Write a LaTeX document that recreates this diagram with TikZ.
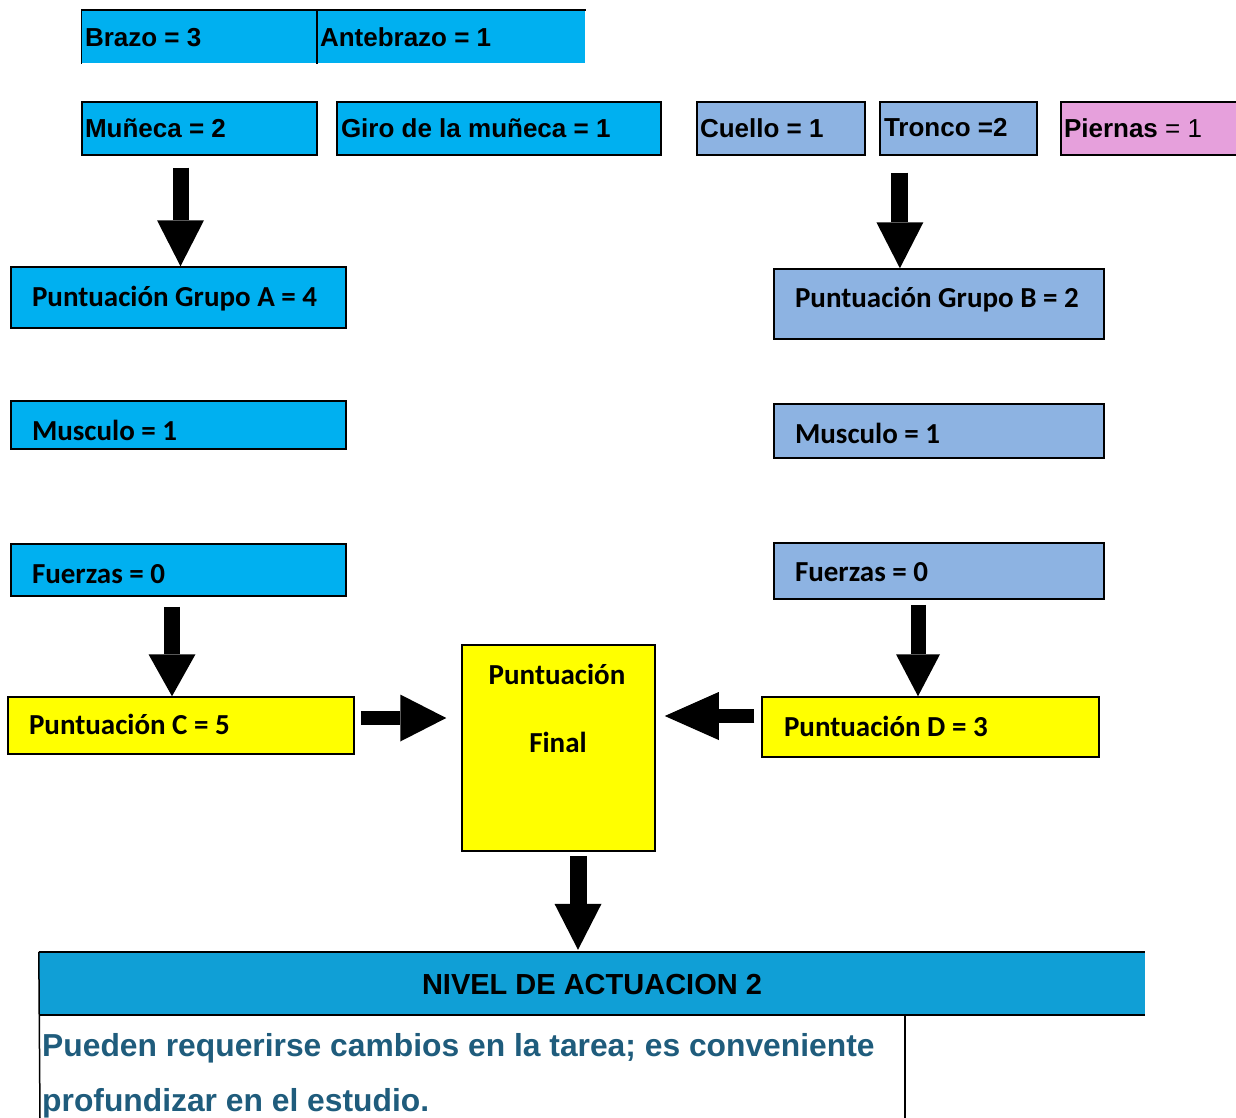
\documentclass[tikz,border=0pt]{standalone}
\usepackage{fontspec}
\setmainfont{Liberation Sans}
\newfontfamily\calib{Carlito}
\usetikzlibrary{arrows.meta,calc}
\definecolor{cyanbox}{HTML}{00B0F0}
\definecolor{bluebox}{HTML}{8DB3E2}
\definecolor{pinkbox}{HTML}{E6A0DC}
\definecolor{yelbox}{HTML}{FFFF00}
\definecolor{nivelblue}{HTML}{109FD6}
\definecolor{tealtext}{HTML}{1F5C7C}
\newcommand{\lbx}[2]{\makebox[#1][l]{#2}}
\begin{document}
\begin{tikzpicture}[x=1pt,y=-1pt,
  abox/.style={draw=black, line width=1.5pt, inner ysep=0pt, inner xsep=3pt,
    font=\fontsize{26}{30}\selectfont\bfseries, text height=22pt, text depth=3.5pt},
  cbox/.style={draw=black, line width=1.5pt, inner ysep=0pt, inner xsep=21pt,
    font=\calib\fontsize{29}{34}\selectfont\bfseries, text height=22pt, text depth=4pt},
  ctext/.style={inner sep=0pt, font=\calib\fontsize{29}{34}\selectfont\bfseries},
  barrow/.style={line width=16pt, -{Triangle[length=46pt,width=47pt,line width=0pt]}},
  edge/.style={line width=1.5pt, draw=black},
  desc/.style={anchor=base west, inner sep=0pt, text=tealtext, font=\fontsize{31.8}{36}\selectfont\bfseries},
]
\useasboundingbox (0,0) rectangle (1236,1118);

% top rows
\node[abox, draw=none, fill=cyanbox, minimum width=234pt, minimum height=52pt] (brazo) at (199,37) {\lbx{228pt}{Brazo = 3}};
\node[abox, draw=none, fill=cyanbox, minimum width=269pt, minimum height=52pt, inner xsep=4pt] (antebrazo) at (450.5,37) {\lbx{261pt}{Antebrazo = 1}};
\draw[edge] (brazo.north west) -- (antebrazo.north east);
\draw[edge] (brazo.north west) -- (brazo.south west);
\draw[edge] (brazo.north east) -- (brazo.south east);

\node[abox, fill=cyanbox, minimum width=235pt, minimum height=53pt] (muneca) at (199.5,128.5) {\lbx{229pt}{Muñeca = 2}};
\node[abox, fill=cyanbox, minimum width=324pt, minimum height=53pt, inner xsep=4pt] (giro) at (499,128.5) {\lbx{316pt}{Giro de la muñeca = 1}};
\node[abox, fill=bluebox, minimum width=168pt, minimum height=53pt] (cuello) at (781,128.5) {\lbx{162pt}{Cuello = 1}};
\node[abox, fill=bluebox, minimum width=157pt, minimum height=53pt, inner xsep=4pt] (tronco) at (958.5,128.5) {\lbx{149pt}{\raisebox{1pt}{Tronco =2}}};
\node[abox, fill=pinkbox, minimum width=176pt, minimum height=53pt] (piernas) at (1149,128.5) {\lbx{170pt}{Piernas {\mdseries = 1}}};

% group A column
\node[cbox, fill=cyanbox, minimum width=335pt, minimum height=61pt] (grupoA) at (178.5,297.5) {\lbx{293pt}{Puntuación Grupo A = 4}};
\node[cbox, fill=cyanbox, minimum width=335pt, minimum height=48pt] (musculoA) at (178.5,425) {\lbx{293pt}{\raisebox{-6pt}{Musculo = 1}}};
\node[cbox, fill=cyanbox, minimum width=335pt, minimum height=52pt] (fuerzasA) at (178.5,570) {\lbx{293pt}{\raisebox{-4pt}{Fuerzas = 0}}};
\node[cbox, fill=yelbox, minimum width=346pt, minimum height=57pt] (C) at (181,725.5) {\lbx{304pt}{Puntuación C = 5}};

% group B column
\node[cbox, fill=bluebox, minimum width=330pt, minimum height=70pt] (grupoB) at (939,304) {\lbx{288pt}{\raisebox{6pt}{Puntuación Grupo B = 2}}};
\node[cbox, fill=bluebox, minimum width=330pt, minimum height=54pt] (musculoB) at (939,431) {\lbx{288pt}{\raisebox{-3pt}{Musculo = 1}}};
\node[cbox, fill=bluebox, minimum width=330pt, minimum height=56pt] (fuerzasB) at (939,571) {\lbx{288pt}{\raisebox{-1pt}{Fuerzas = 0}}};
\node[cbox, fill=yelbox, minimum width=337pt, minimum height=60pt, inner xsep=22pt] (D) at (930.5,727) {\lbx{293pt}{Puntuación D = 3}};

% final
\node[draw=black, line width=1.5pt, fill=yelbox, minimum width=193pt, minimum height=206pt, inner sep=0pt] (final) at (558.5,748) {};
\node[ctext, anchor=base] (finalA) at (557,684) {Puntuación};
\node[ctext, anchor=base] (finalB) at (558,752) {Final};

% nivel
\node[fill=nivelblue, minimum width=1106pt, minimum height=63pt, inner sep=0pt,
  font=\fontsize{29}{34}\selectfont\bfseries, text height=22pt, text depth=0pt] (nivel) at (592,983.5) {NIVEL DE ACTUACION 2};
\coordinate (bl) at (40,1118);
\coordinate (vl) at (905,1118);
\draw[edge] (nivel.north west) -- (nivel.north east);
\draw[edge] (nivel.south west) -- (nivel.south east);
\draw[edge] (nivel.north west) -- (bl);
\draw[edge] (vl |- nivel.south) -- (vl);
\node[desc] (desc1) at (42,1056) {Pueden requerirse cambios en la tarea; es conveniente};
\node[desc] (desc2) at (42,1111) {profundizar en el estudio.};

% arrows
\coordinate (a1s) at ($(muneca.south -| grupoA.north)+(2,12)$);
\coordinate (a1t) at ($(grupoA.north)+(2,0)$);
\draw[barrow] (a1s) -- (a1t);

\coordinate (a2t) at ($(grupoB.north west)!0.382!(grupoB.north east)$);
\coordinate (a2s) at ($(a2t |- tronco.south)+(0,17)$);
\draw[barrow, line width=17pt] (a2s) -- (a2t);

\coordinate (a3t) at ($(C.north)+(-9,0)$);
\coordinate (a3s) at ($(a3t |- fuerzasA.south)+(0,10)$);
\draw[barrow, -{Triangle[length=42pt,width=47pt,line width=0pt]}] (a3s) -- (a3t);

\coordinate (a4s) at ($(C.east)+(6,-7.5)$);
\coordinate (a4t) at ($(a4s -| final.west)+(-15,0)$);
\draw[barrow, line width=14pt] (a4s) -- (a4t);

\coordinate (a5s) at ($(D.west)+(-7,-11)$);
\coordinate (a5t) at ($(a5s -| final.east)+(9,0)$);
\draw[barrow, line width=14pt, -{Triangle[length=54pt,width=48pt,line width=0pt]}] (a5s) -- (a5t);

\coordinate (a6t) at ($(D.north)+(-12.5,0)$);
\coordinate (a6s) at ($(a6t |- fuerzasB.south)+(0,5)$);
\draw[barrow, line width=15pt, -{Triangle[length=42pt,width=44pt,line width=0pt]}] (a6s) -- (a6t);

\coordinate (a7s) at ($(final.south)+(19.5,4)$);
\coordinate (a7t) at ($(a7s |- nivel.north)+(0,-2)$);
\draw[barrow, line width=17pt] (a7s) -- (a7t);
\end{tikzpicture}
\end{document}
